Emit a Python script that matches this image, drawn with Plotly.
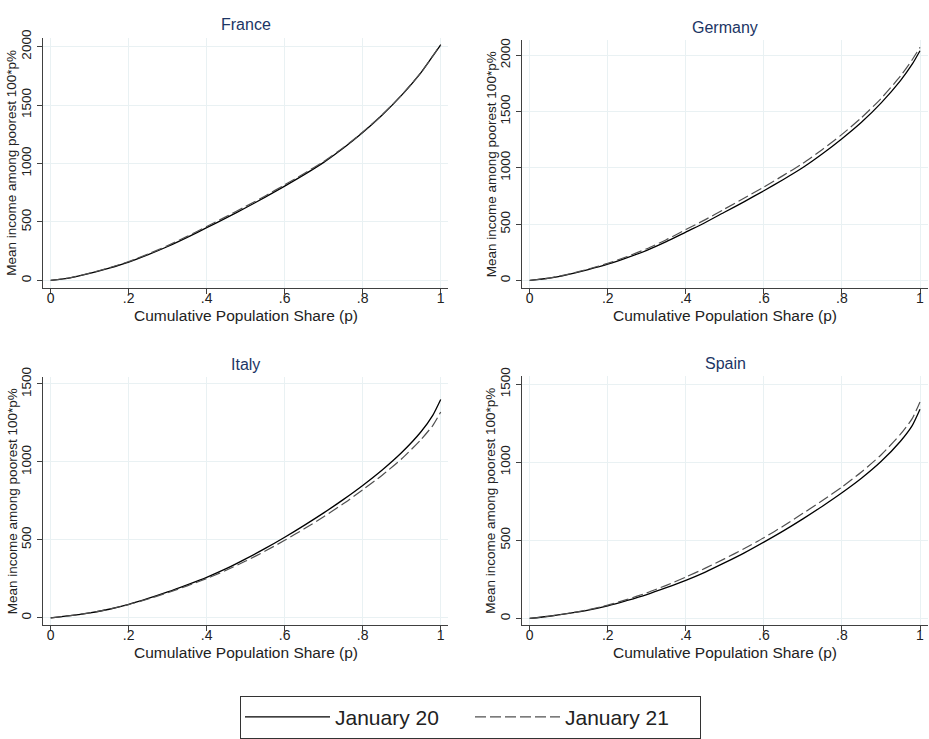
import plotly.graph_objects as go

# Cumulative population share
p = [0, .05, .1, .15, .2, .25, .3, .35, .4, .45, .5, .55, .6, .65, .7, .75, .8, .85, .9, .95, .98, 1.0]

# Mean income among the poorest 100*p% (generalised Lorenz ordinates)
france_jan20 = [0, 22, 60, 105, 157, 220, 290, 368, 451, 535, 622, 712, 807, 905, 1010, 1130, 1265, 1415, 1585, 1780, 1920, 2015]
france_jan21 = [0, 23, 62, 108, 162, 226, 298, 377, 461, 546, 633, 723, 818, 915, 1018, 1136, 1269, 1417, 1586, 1781, 1921, 2018]

germany_jan20 = [0, 20, 55, 97, 145, 203, 268, 345, 430, 515, 608, 700, 797, 897, 1003, 1125, 1259, 1405, 1575, 1775, 1920, 2040]
germany_jan21 = [0, 21, 57, 101, 152, 213, 282, 362, 452, 540, 636, 732, 830, 933, 1040, 1163, 1297, 1445, 1615, 1815, 1960, 2070]

italy_jan20 = [0, 14, 32, 55, 86, 124, 166, 212, 260, 315, 378, 445, 517, 593, 673, 758, 849, 948, 1060, 1195, 1300, 1400]
italy_jan21 = [0, 14, 32, 55, 85, 121, 161, 205, 252, 305, 364, 428, 497, 571, 648, 731, 821, 915, 1020, 1145, 1235, 1320]

spain_jan20 = [0, 14, 32, 53, 80, 115, 153, 197, 244, 297, 357, 420, 489, 561, 638, 719, 805, 898, 1005, 1135, 1235, 1340]
spain_jan21 = [0, 14, 33, 56, 85, 122, 164, 212, 265, 322, 383, 448, 517, 592, 673, 755, 842, 938, 1047, 1180, 1280, 1387]

countries = ["France", "Germany", "Italy", "Spain"]
series = [
    (france_jan20, france_jan21),
    (germany_jan20, germany_jan21),
    (italy_jan20, italy_jan21),
    (spain_jan20, spain_jan21),
]

x_ticks = [0, .2, .4, .6, .8, 1]
x_ticktext = ["0", ".2", ".4", ".6", ".8", "1"]
y_ticks_big = [0, 500, 1000, 1500, 2000]
y_ticks_small = [0, 500, 1000, 1500]

W, H = 929, 739
FONT = "Liberation Sans, Arial, sans-serif"
AXIS = "#404040"
GRID = "#E9F1F3"
TITLE_COLOR = "#1C3565"

# panel geometry in pixels: (left, right, top, bottom)
panels = [
    (43, 448, 28, 283),
    (522, 928, 31, 283),
    (43, 448, 374, 626),
    (522, 928, 373, 626),
]
x_ranges = [[-0.0197, 1.0187], [-0.0197, 1.0205], [-0.0197, 1.0187], [-0.0197, 1.0205]]
y_ranges = [[-65, 2078], [-67, 2131], [-46, 1542], [-42, 1550]]
y_tick_sets = [y_ticks_big, y_ticks_big, y_ticks_small, y_ticks_small]

fig = go.Figure()

for i, (name, (s20, s21)) in enumerate(zip(countries, series)):
    suffix = "" if i == 0 else str(i + 1)
    fig.add_trace(go.Scatter(
        x=p, y=s20, mode="lines", name="January 20",
        line=dict(color="#000000", width=1.3, shape="spline", smoothing=0.6),
        xaxis="x" + suffix, yaxis="y" + suffix,
        showlegend=(i == 0), legendgroup="jan20",
    ))
    fig.add_trace(go.Scatter(
        x=p, y=s21, mode="lines", name="January 21",
        line=dict(color="#505050", width=1.2, dash="11px,4px", shape="spline", smoothing=0.6),
        xaxis="x" + suffix, yaxis="y" + suffix,
        showlegend=(i == 0), legendgroup="jan21",
    ))

layout = dict(
    width=W, height=H,
    margin=dict(l=0, r=0, t=0, b=0),
    paper_bgcolor="white", plot_bgcolor="white",
    font=dict(family=FONT, color="#222222"),
    showlegend=True,
    legend=dict(
        orientation="h", x=240 / W, xanchor="left", y=1 - 698 / H, yanchor="top",
        bordercolor="#333333", borderwidth=1, bgcolor="white",
        font=dict(size=21, family=FONT, color="#222222"),
        entrywidth=130, itemwidth=85,
    ),
    annotations=[],
)

for i, name in enumerate(countries):
    suffix = "" if i == 0 else str(i + 1)
    l, r, t, b = panels[i]
    xd = [l / W, r / W]
    yd = [1 - b / H, 1 - t / H]
    layout["xaxis" + suffix] = dict(
        domain=xd, range=x_ranges[i], anchor="y" + suffix,
        tickmode="array", tickvals=x_ticks, ticktext=x_ticktext,
        showline=True, linecolor=AXIS, linewidth=1.3,
        ticks="outside", ticklen=5, tickcolor=AXIS, tickwidth=1.2,
        ticklabelstandoff=-8,
        showgrid=True, gridcolor=GRID, gridwidth=1, zeroline=False,
        tickfont=dict(size=14, family=FONT, color="#222222"),
    )
    layout["yaxis" + suffix] = dict(
        domain=yd, range=y_ranges[i], anchor="x" + suffix,
        tickmode="array", tickvals=y_tick_sets[i],
        tickangle=-90,
        showline=True, linecolor=AXIS, linewidth=1.3,
        ticks="outside", ticklen=5, tickcolor=AXIS, tickwidth=1.2,
        showgrid=True, gridcolor=GRID, gridwidth=1, zeroline=False,
        tickfont=dict(size=13.5, family=FONT, color="#222222"),
    )
    cx = (l + r) / 2 / W
    cy = 1 - (t + b) / 2 / H
    # panel title
    layout["annotations"].append(dict(
        text=name, x=cx, y=1 - (t - 13) / H, xref="paper", yref="paper",
        xanchor="center", yanchor="middle", showarrow=False,
        font=dict(size=16, family=FONT, color=TITLE_COLOR),
    ))
    # x axis title
    layout["annotations"].append(dict(
        text="Cumulative Population Share (p)", x=cx, y=1 - (b + 28) / H,
        xref="paper", yref="paper", xanchor="center", yanchor="middle",
        showarrow=False, font=dict(size=15.5, family=FONT, color="#222222"),
    ))
    # y axis title
    layout["annotations"].append(dict(
        text="Mean income among poorest 100*p%", x=(l - 31) / W, y=cy,
        xref="paper", yref="paper", xanchor="center", yanchor="middle",
        textangle=-90, showarrow=False,
        font=dict(size=13.5, family=FONT, color="#222222"),
    ))

fig.update_layout(**layout)
fig.write_html("out.html")
